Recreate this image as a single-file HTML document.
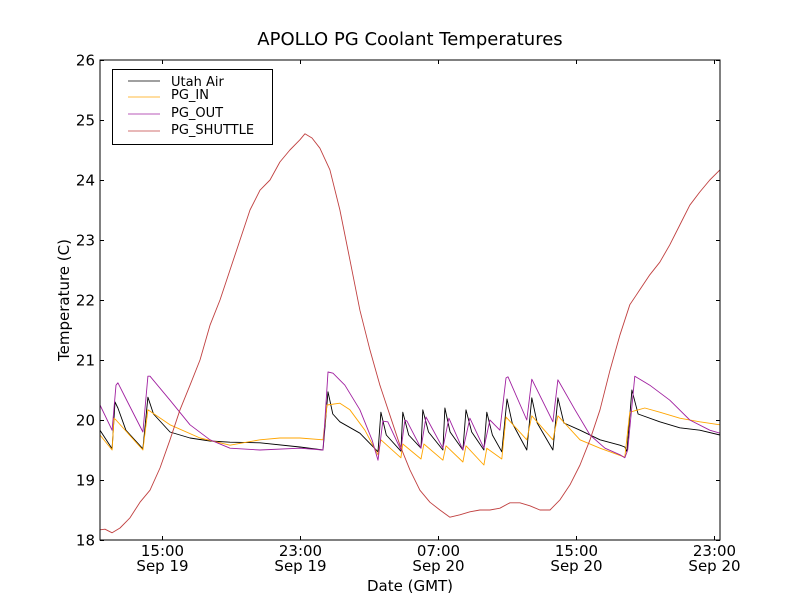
<!DOCTYPE html>
<html><head><meta charset="utf-8"><style>
body{margin:0;background:#fff;}
svg{font-family:"DejaVu Sans","Liberation Sans",sans-serif;}
</style></head><body>
<svg id="chart" width="800" height="600" viewBox="0 0 800 600">
<rect width="800" height="600" fill="#fff"/>
<text x="410" y="45" text-anchor="middle" font-size="18">APOLLO PG Coolant Temperatures</text>
<g id="series"></g>
<rect x="100" y="60" width="620" height="480" fill="none" stroke="#000" stroke-width="1"/>
<g id="axes"></g>
<text x="410" y="591" text-anchor="middle" font-size="15">Date (GMT)</text>
<text transform="translate(69,300) rotate(-90)" text-anchor="middle" font-size="15">Temperature (C)</text>
<g>
<rect x="112.5" y="69.5" width="160" height="75" fill="#fff" stroke="#000"/>
<line x1="128" x2="160" y1="81" y2="81" stroke="#000" stroke-width="0.8"/>
<text x="171" y="86" font-size="13">Utah Air</text>
<line x1="128" x2="160" y1="97" y2="97" stroke="#ffa500" stroke-width="0.8"/>
<text x="171" y="99" font-size="13">PG_IN</text>
<line x1="128" x2="160" y1="114" y2="114" stroke="#a020a0" stroke-width="0.8"/>
<text x="171" y="117" font-size="13">PG_OUT</text>
<line x1="128" x2="160" y1="131" y2="131" stroke="#c04040" stroke-width="0.8"/>
<text x="171" y="134" font-size="13">PG_SHUTTLE</text>
</g>
</svg>
<script>
const xTickHours=[15,23,31,39,47];
const xTickTimes=["15:00","23:00","07:00","15:00","23:00"];
const xTickDates=["Sep 19","Sep 19","Sep 20","Sep 20","Sep 20"];
const yTicks=[18,19,20,21,22,23,24,25,26];
const shuttleT=[11.40,11.69,12.10,12.56,13.14,13.72,14.30,14.88,15.46,16.04,16.62,17.20,17.78,18.36,18.94,19.52,20.10,20.68,21.26,21.83,22.41,22.99,23.28,23.69,24.15,24.73,25.31,25.89,26.47,27.05,27.63,28.21,28.79,29.37,29.95,30.53,31.11,31.69,32.27,32.85,33.43,34.01,34.59,35.17,35.75,36.33,36.91,37.49,38.07,38.65,39.23,39.81,40.39,40.97,41.55,42.12,42.70,43.28,43.86,44.44,45.02,45.60,46.18,46.76,47.35];
const shuttleV=[18.17,18.18,18.12,18.2,18.37,18.63,18.83,19.2,19.67,20.17,20.58,21.0,21.58,22.0,22.5,23.0,23.5,23.83,24.0,24.3,24.5,24.67,24.77,24.7,24.53,24.17,23.5,22.67,21.83,21.17,20.58,20.08,19.58,19.17,18.83,18.63,18.5,18.38,18.42,18.47,18.5,18.5,18.53,18.62,18.62,18.57,18.5,18.5,18.67,18.92,19.25,19.67,20.17,20.83,21.42,21.92,22.17,22.42,22.63,22.92,23.25,23.58,23.8,24.0,24.17];
const airT=[11.40,12.10,12.27,12.44,12.9,13.89,14.18,14.5,15.46,16.62,17.78,18.94,20.68,22.99,24.33,24.62,24.9,25.31,26.47,27.52,27.69,28.0,28.85,28.96,29.3,30.01,30.12,30.45,31.28,31.40,31.7,32.44,32.62,32.95,33.66,33.83,34.15,34.70,35.00,35.3,36.15,36.44,36.75,37.66,37.95,38.3,39.23,40.39,41.55,41.83,41.95,42.24,42.6,43.86,45.02,46.18,47.35];
const airV=[19.83,19.52,20.30,20.20,19.83,19.52,20.38,20.1,19.8,19.7,19.65,19.63,19.62,19.55,19.5,20.47,20.1,19.97,19.78,19.47,20.13,19.75,19.48,20.13,19.75,19.53,20.17,19.8,19.5,20.20,19.8,19.5,20.17,19.8,19.5,20.13,19.75,19.47,20.35,19.95,19.5,20.37,19.95,19.5,20.37,19.95,19.83,19.67,19.58,19.55,19.47,20.5,20.1,19.97,19.87,19.83,19.75];
const outT=[11.40,12.10,12.33,12.44,13.0,13.89,14.18,14.30,15.46,16.62,17.78,18.94,20.68,22.99,24.33,24.62,24.91,25.60,26.47,27.17,27.52,27.80,28.09,28.85,29.08,29.20,30.01,30.30,31.28,31.63,32.44,32.85,33.66,34.01,34.59,34.94,35.06,36.15,36.44,37.66,37.95,38.94,39.81,40.68,41.55,41.83,42.0,42.41,43.28,44.44,45.60,46.76,47.35];
const outV=[20.25,19.83,20.58,20.62,20.3,19.8,20.73,20.73,20.33,19.92,19.67,19.53,19.5,19.53,19.5,20.8,20.78,20.58,20.17,19.67,19.33,19.98,19.97,19.5,20.0,19.98,19.53,20.05,19.53,20.03,19.5,20.03,19.53,20.0,19.83,20.70,20.72,20.0,20.68,19.97,20.67,20.17,19.75,19.53,19.42,19.37,19.5,20.73,20.58,20.33,20.0,19.83,19.78];
const inT=[11.40,12.10,12.21,12.33,13.89,14.18,15.46,17.20,18.94,20.68,21.83,22.99,24.33,24.56,25.31,25.89,26.76,27.52,27.69,28.85,28.96,30.01,30.18,31.28,31.46,32.44,32.62,33.66,33.83,34.70,34.94,36.15,36.44,37.66,37.95,39.23,40.39,41.83,42.12,42.99,43.86,45.02,46.18,47.35];
const inV=[19.75,19.5,20.03,20.0,19.5,20.17,19.92,19.70,19.58,19.67,19.70,19.70,19.67,20.25,20.28,20.17,19.83,19.42,19.67,19.37,19.6,19.35,19.6,19.33,19.57,19.3,19.57,19.25,19.53,19.35,20.05,19.67,20.07,19.67,20.07,19.67,19.53,19.38,20.13,20.2,20.13,20.03,19.97,19.92];

const X0=100,X1=720,Y0=540,Y1=60,XMIN=11.4,XMAX=47.35,YMIN=18,YMAX=26;
function xs(h){return X0+(h-XMIN)/(XMAX-XMIN)*(X1-X0);}
function ys(v){return Y0-(v-YMIN)/(YMAX-YMIN)*(Y0-Y1);}
const NS="http://www.w3.org/2000/svg";
const sg=document.getElementById('series'),ax=document.getElementById('axes');
function line(T,V,color,name){
  const p=document.createElementNS(NS,'polyline');
  p.setAttribute('points',T.map((t,i)=>xs(t).toFixed(1)+','+ys(V[i]).toFixed(1)).join(' '));
  p.setAttribute('fill','none');p.setAttribute('stroke',color);p.setAttribute('stroke-width','0.9');
  p.setAttribute('stroke-linejoin','round');
  
  
  sg.appendChild(p);
}
line(airT,airV,'#000','series-utah-air');
line(inT,inV,'#ffa500','series-pg-in');
line(outT,outV,'#a020a0','series-pg-out');
line(shuttleT,shuttleV,'#c04040','series-pg-shuttle');
function mk(tag,attrs,parent){const e=document.createElementNS(NS,tag);for(const k in attrs)e.setAttribute(k,attrs[k]);parent.appendChild(e);return e;}
yTicks.forEach(v=>{
  const y=Math.round(ys(v))+0.5;
  const t1=mk('line',{x1:100,x2:104,y1:y,y2:y,stroke:'#000'},ax);
  
  
  const t2=mk('line',{x1:716,x2:720,y1:y,y2:y,stroke:'#000'},ax);
  
  
  const tx=mk('text',{x:95,y:y+5,'text-anchor':'end','font-size':15},ax);
  tx.textContent=v;
  
  
});
xTickHours.forEach((h,i)=>{
  const x=Math.round(xs(h))+0.5;
  const t1=mk('line',{x1:x,x2:x,y1:536,y2:540,stroke:'#000'},ax);
  
  
  const t2=mk('line',{x1:x,x2:x,y1:60,y2:64,stroke:'#000'},ax);
  
  
  const a=mk('text',{x:x,y:556,'text-anchor':'middle','font-size':15},ax);
  a.textContent=xTickTimes[i];
  
  
  const b=mk('text',{x:x,y:571,'text-anchor':'middle','font-size':15},ax);
  b.textContent=xTickDates[i];
  
  
});
</script>
</body></html>
